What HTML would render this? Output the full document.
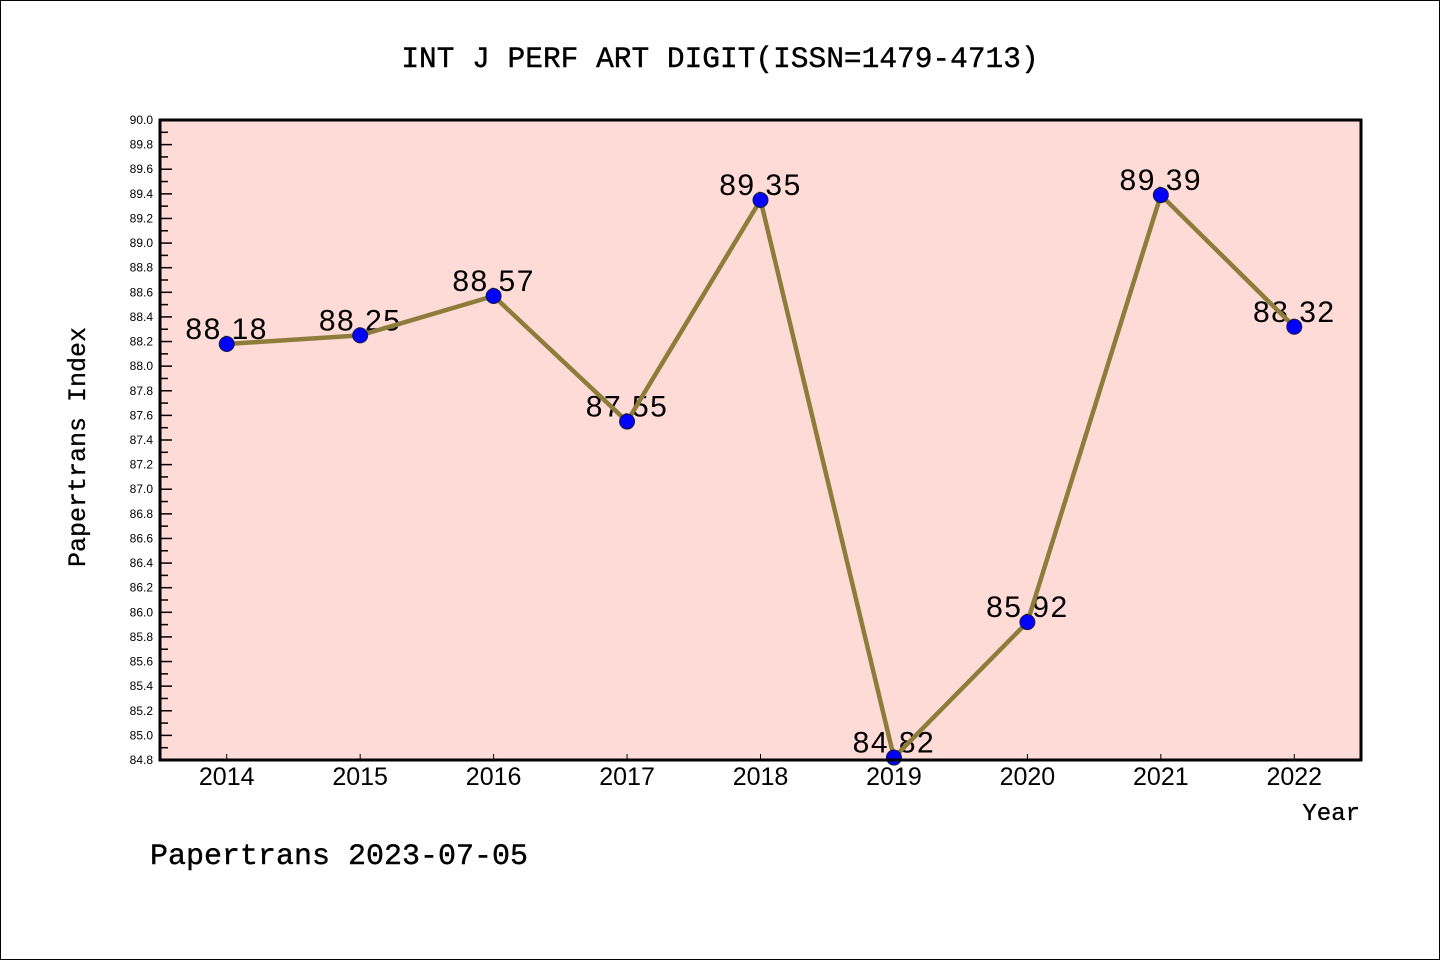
<!DOCTYPE html>
<html><head><meta charset="utf-8"><style>
body{margin:0;background:#fff}
svg{display:block}
</style></head><body>
<svg id="chart" width="1440" height="960" xmlns="http://www.w3.org/2000/svg">
<rect x="0.5" y="0.5" width="1439" height="959" fill="#fff" stroke="#000" stroke-width="1"/>
<text x="720" y="67" text-anchor="middle" font-family="Liberation Mono, monospace" font-size="29.5" stroke="#000" stroke-width="0.4">INT J PERF ART DIGIT(ISSN=1479-4713)</text>
<rect x="160" y="120" width="1201" height="640" fill="#FFDBD8"/>
<g id="yaxis"></g>
<g id="xaxis"></g>
<g id="labels"></g>
<g id="series"></g>
<rect x="160" y="120" width="1201" height="640" fill="none" stroke="#000" stroke-width="3"/>
<text transform="translate(85,447) rotate(-90)" text-anchor="middle" font-family="Liberation Mono, monospace" font-size="25" stroke="#000" stroke-width="0.3">Papertrans Index</text>
<text x="1360" y="820" text-anchor="end" font-family="Liberation Mono, monospace" font-size="24" stroke="#000" stroke-width="0.3">Year</text>
<text x="150" y="864" font-family="Liberation Mono, monospace" font-size="30" stroke="#000" stroke-width="0.4">Papertrans 2023-07-05</text>
</svg>
<script>
const years = [2014,2015,2016,2017,2018,2019,2020,2021,2022];
const values = [88.18,88.25,88.57,87.55,89.35,84.82,85.92,89.39,88.32];
const valueLabels = ["88.18","88.25","88.57","87.55","89.35","84.82","85.92","89.39","88.32"];
const yMin = 84.8, yMax = 90.0;
const NS = "http://www.w3.org/2000/svg";
const L=160,R=1361,T=120,B=760;
function xs(v){return L+(v-(years[0]-0.5))/(years.length)*(R-L);}
function ys(v){return B-(v-yMin)/(yMax-yMin)*(B-T);}
function mk(tag,attrs,parent){const e=document.createElementNS(NS,tag);for(const k in attrs)e.setAttribute(k,attrs[k]);parent.appendChild(e);return e;}
const ya=document.getElementById('yaxis');
for(let i=0;i<=52;i++){
  const v=yMin+i*0.1, y=ys(v), major=i%2===0;
  const t=mk('line',{x1:L,x2:L+(major?12:8),y1:y,y2:y,stroke:'#000','stroke-width':1.5},ya);
  
  
  if(major){
    const tx=mk('text',{x:L-7,y:y+4,'text-anchor':'end','font-family':'Liberation Sans, sans-serif','font-size':12},ya);
    tx.textContent=v.toFixed(1);
    
    
  }
}
const xa=document.getElementById('xaxis');
years.forEach(yr=>{
  const x=xs(yr);
  const t=mk('line',{x1:x,x2:x,y1:B,y2:B-6,stroke:'#000','stroke-width':1},xa);
  
  
  const tx=mk('text',{x:x,y:785,'text-anchor':'middle','font-family':'Liberation Sans, sans-serif','font-size':25},xa);
  tx.textContent=yr;
  
  
});
const lb=document.getElementById('labels');
values.forEach((v,i)=>{
  const tx=mk('text',{x:xs(years[i]),y:ys(v)-5,'text-anchor':'middle','font-family':'Liberation Sans, sans-serif','font-size':30,'letter-spacing':1.5},lb);
  tx.textContent=valueLabels[i];
  
  
});
const s=document.getElementById('series');
const pl=mk('polyline',{points:values.map((v,i)=>xs(years[i])+','+ys(v)).join(' '),fill:'none',stroke:'#8E7D3A','stroke-width':4.5,'stroke-linejoin':'round'},s);


values.forEach((v,i)=>{
  const c=mk('circle',{cx:xs(years[i]),cy:ys(v),r:7.5,fill:'#0000FF',stroke:'#1a1a3a','stroke-width':1},s);
  
  
});
</script>
</body></html>
